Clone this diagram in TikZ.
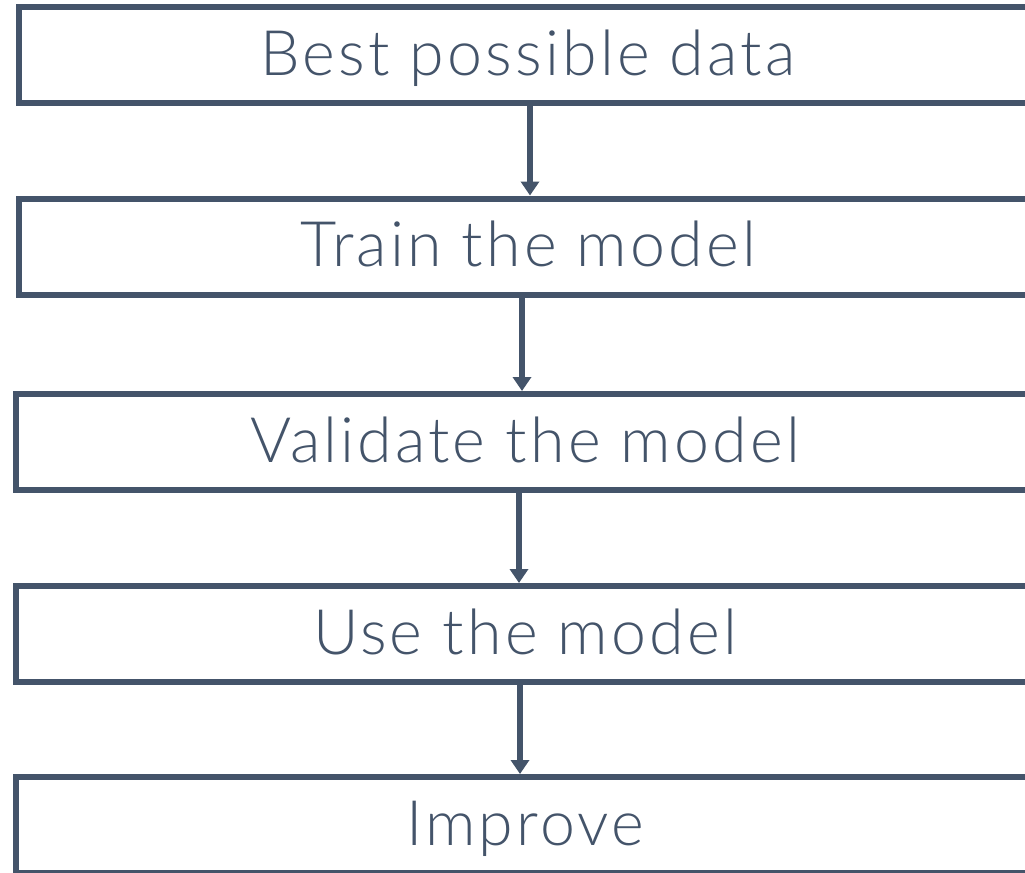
\documentclass[tikz,border=0pt]{standalone}
\usepackage{fontspec}
\setmainfont{Lato Light}[LetterSpace=5]
\usepackage{tikz}
\usetikzlibrary{arrows.meta}
\definecolor{ink}{HTML}{44546A}
\tikzset{
  >={Triangle[width=13.5pt,length=10.5pt]},
  stage/.style={
    draw=ink, line width=4.5pt, fill=white, text=ink,
    minimum width=763.5pt, minimum height=72pt, inner sep=0pt,
    font=\fontsize{47}{52}\selectfont, text height=35pt, text depth=5pt
  },
  flow/.style={->, draw=ink, line width=4.5pt}
}

\begin{document}
\begin{tikzpicture}[x=0.75pt,y=-0.75pt]
  \clip (0,0) rectangle (1025,872);

  % the five steps, top to bottom
  \node[stage] (data)     at (528,55)    {Best possible data};
  \node[stage] (train)    at (528,246.5) {Train the model};
  \node[stage] (validate) at (525,442)   {Validate the model};
  \node[stage] (use)      at (525,634)   {Use the model};
  \node[stage] (improve)  at (525,825)   {Improve};

  \draw[flow] ([xshift=1.5pt]data.south)     -- ([xshift=1.5pt]data.south |- train.north);
  \draw[flow] ([xshift=-4.5pt]train.south)   -- ([xshift=-4.5pt]train.south |- validate.north);
  \draw[flow] ([xshift=-4.5pt]validate.south) -- ([xshift=-4.5pt]validate.south |- use.north);
  \draw[flow] ([xshift=-3.75pt]use.south)    -- ([xshift=-3.75pt]use.south |- improve.north);
\end{tikzpicture}
\end{document}
